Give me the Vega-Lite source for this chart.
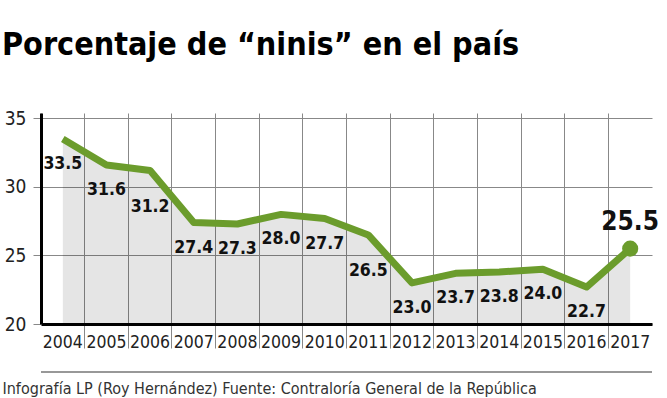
{
  "$schema": "https://vega.github.io/schema/vega-lite/v6.json",
  "width": 611,
  "height": 211,
  "autosize": {"type": "none"},
  "padding": {"left": 41, "top": 113, "right": 15, "bottom": 74},
  "background": "white",
  "config": {"view": {"stroke": null}},
  "title": {
    "text": "Porcentaje de “ninis” en el país",
    "anchor": "start",
    "frame": "group",
    "font": "DejaVu Sans Condensed, sans-serif",
    "fontSize": 32,
    "fontWeight": "bold",
    "color": "#000000",
    "baseline": "alphabetic",
    "dx": -39,
    "offset": 22
  },
  "data": {
    "values": [
      {"year": 2004, "value": 33.5},
      {"year": 2005, "value": 31.6},
      {"year": 2006, "value": 31.2},
      {"year": 2007, "value": 27.4},
      {"year": 2008, "value": 27.3},
      {"year": 2009, "value": 28.0},
      {"year": 2010, "value": 27.7},
      {"year": 2011, "value": 26.5},
      {"year": 2012, "value": 23.0},
      {"year": 2013, "value": 23.7},
      {"year": 2014, "value": 23.8},
      {"year": 2015, "value": 24.0},
      {"year": 2016, "value": 22.7},
      {"year": 2017, "value": 25.5}
    ]
  },
  "encoding": {
    "x": {
      "field": "year",
      "type": "ordinal",
      "scale": {"type": "band", "paddingInner": 0, "paddingOuter": 0},
      "axis": {
        "title": "Infografía LP (Roy Hernández)  Fuente: Contraloría General de la República",
        "titleAnchor": "start",
        "titleAlign": "left",
        "titleBaseline": "alphabetic",
        "titleX": -39,
        "titleY": 69,
        "titleFont": "DejaVu Sans Condensed, sans-serif",
        "titleFontSize": 16,
        "titleFontWeight": "normal",
        "titleColor": "#333333",
        "labelAngle": 0,
        "labelFont": "DejaVu Sans Condensed, sans-serif",
        "labelFontSize": 17.5,
        "labelColor": "#222222",
        "labelPadding": -15,
        "labelBaseline": "top",
        "bandPosition": 0,
        "domainColor": "#000000",
        "domainWidth": 3,
        "tickColor": "#888888",
        "tickSize": 24,
        "tickWidth": 1,
        "tickOpacity": {"condition": {"test": "datum.value === 2004", "value": 0}, "value": 1},
        "grid": true,
        "gridColor": "#888888",
        "gridWidth": 1
      }
    },
    "y": {
      "field": "value",
      "type": "quantitative",
      "scale": {"domain": [20, 35.4], "zero": false, "nice": false},
      "axis": {
        "title": null,
        "values": [20, 25, 30, 35],
        "labelFont": "DejaVu Sans Condensed, sans-serif",
        "labelFontSize": 19,
        "labelColor": "#222222",
        "labelPadding": 7,
        "domainColor": "#000000",
        "domainWidth": 3,
        "tickColor": "#888888",
        "tickSize": 8,
        "tickWidth": 1,
        "grid": true,
        "gridColor": "#888888",
        "gridWidth": 1
      }
    }
  },
  "layer": [
    {
      "mark": {"type": "area", "fill": "#000000", "fillOpacity": 0.1},
      "encoding": {"y2": {"datum": 20}}
    },
    {"mark": {"type": "line", "color": "#6b9c2c", "strokeWidth": 7, "strokeJoin": "round"}},
    {
      "transform": [{"filter": "datum.year === 2017"}],
      "mark": {"type": "point", "filled": true, "color": "#6b9c2c", "opacity": 1, "size": 260}
    },
    {
      "transform": [{"filter": "datum.year !== 2017 && datum.year !== 2006 && datum.year !== 2011"}],
      "mark": {"type": "text", "font": "DejaVu Sans Condensed, sans-serif", "fontWeight": "bold", "fontSize": 17.5, "color": "#111111", "baseline": "middle", "dy": 25},
      "encoding": {"text": {"field": "value", "type": "quantitative", "format": ".1f"}}
    },
    {
      "transform": [{"filter": "datum.year === 2006 || datum.year === 2011"}],
      "mark": {"type": "text", "font": "DejaVu Sans Condensed, sans-serif", "fontWeight": "bold", "fontSize": 17.5, "color": "#111111", "baseline": "middle", "dy": 36},
      "encoding": {"text": {"field": "value", "type": "quantitative", "format": ".1f"}}
    },
    {
      "transform": [{"filter": "datum.year === 2017"}],
      "mark": {"type": "text", "font": "DejaVu Sans Condensed, sans-serif", "fontWeight": "bold", "fontSize": 26, "color": "#111111", "baseline": "middle", "dy": -27},
      "encoding": {"text": {"field": "value", "type": "quantitative", "format": ".1f"}}
    },
    {
      "mark": {"type": "rule", "color": "#999999", "strokeWidth": 1},
      "encoding": {"x": null, "y": {"datum": 16.5}}
    }
  ]
}
